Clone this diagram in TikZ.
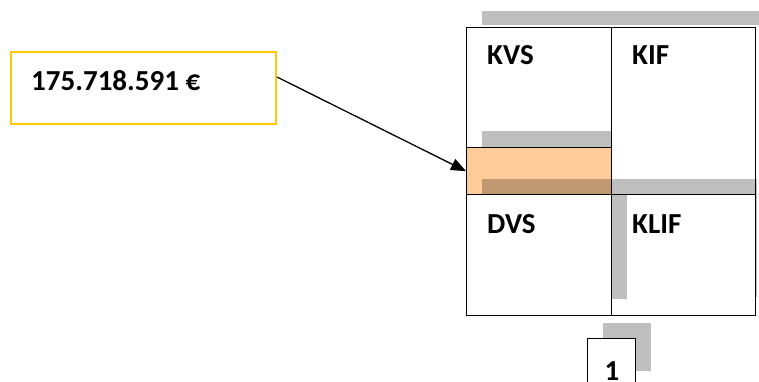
\documentclass[tikz,border=0pt]{standalone}
\usepackage{fontspec}
\setmainfont{Carlito}
\usetikzlibrary{arrows.meta}
\definecolor{goldline}{RGB}{255,200,0}
\definecolor{orangefill}{RGB}{255,204,153}
\definecolor{shadowgray}{RGB}{191,191,191}
\tikzset{
  box/.style={draw=black, line width=1.3pt, inner sep=0pt, anchor=north west},
  shade/.style={fill=black, opacity=0.25},
  lbl/.style={anchor=base west, inner sep=0pt, font=\fontsize{29}{31}\selectfont\bfseries},
}
\begin{document}
\begin{tikzpicture}[x=1pt,y=-1pt]
\clip (0,0) rectangle (759,382);
\fill[white] (0,0) rectangle (759,382);
% orange area
\node[box, draw=none, fill=orangefill, minimum width=145pt, minimum height=47pt] (org) at (466,147) {};
% shadows
\fill[shade] (482,11) rectangle (759,25);
\fill[shade] (482,131) rectangle (611,147);
\fill[shade] (482,179) rectangle (757,194);
\fill[shade] (611,194) rectangle (627,299);
\fill[shade] (755,194) rectangle (757,297);
\fill[shadowgray] (603,323) rectangle (651,371);
% boxes
\node[box, minimum width=145pt, minimum height=120pt] (kvs) at (466,27) {};
\node[box, minimum width=145pt, minimum height=47pt] (orgbox) at (466,147) {};
\node[box, minimum width=144pt, minimum height=167pt] (kif) at (611,27) {};
\node[box, minimum width=145pt, minimum height=121pt] (dvs) at (466,194) {};
\node[box, minimum width=144pt, minimum height=121pt] (klif) at (611,194) {};
\node[box, fill=white, minimum width=48pt, minimum height=70pt] (one) at (587,338) {};
\node[box, draw=goldline, line width=2pt, minimum width=265pt, minimum height=72pt] (amt) at (10,51) {};
% labels
\node[lbl] (tkvs) at (487,65) {KVS};
\node[lbl] (tkif) at (632,65) {KIF};
\node[lbl] (tdvs) at (487,233) {DVS};
\node[lbl] (tklif) at (632,233) {KLIF};
\node[lbl, anchor=base] (tone) at (612,380) {1};
\node[lbl] (tamt) at (31,91) {175.718.591 €};
% arrow
\draw[line width=1.3pt, -{Triangle[length=15pt,width=12pt]}] ([yshift=11pt]amt.east) -- (orgbox.west);
\end{tikzpicture}
\end{document}
